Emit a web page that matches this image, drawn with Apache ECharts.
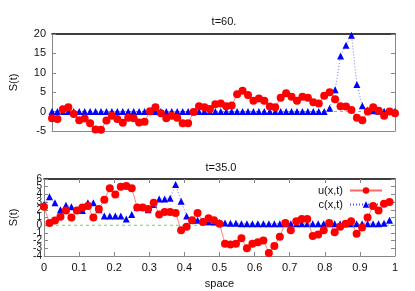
<!DOCTYPE html>
<html><head><meta charset="utf-8">
<script src="https://cdn.jsdelivr.net/npm/echarts@6/dist/echarts.min.js"></script>
<style>html,body{margin:0;padding:0;background:#fff}#c{width:415px;height:291px}</style>
</head><body><div id="c"></div>
<script>
const N = 64;
const space = Array.from({length: N}, (_, i) => i / N);
const u60 = [-1.7,-1.9,0.6,1.1,-0.6,-2.2,-1.8,-3.0,-4.6,-4.7,
  -2.3,-1.1,-1.9,-2.9,-1.6,-1.7,-2.8,-2.6,0.1,1.1,
  -0.4,-1.7,-1.1,-1.6,-3.0,-3.0,-0.1,1.4,1.1,0.7,
  1.9,2.1,1.4,1.6,4.5,5.4,4.3,2.8,3.4,2.8,
  1.3,1.1,3.6,4.7,3.8,2.8,3.8,3.6,2.4,2.1,
  4.1,5.0,3.2,1.4,1.3,0.4,-1.6,-2.2,0.0,1.1,
  0.2,-1.1,0.0,-0.4];
const c60 = [0,0,0,0,0,0,0,0,0,0, 0,0,0,0,0,0,0,0,0,0,
  0,0,0,0,0,0,0,0,0,0, 0,0,0,0,0,0,0,0,0,0,
  0,0,0,0,0,0,0,0,0,0, 0,0.85,5.6,14.3,17.1,19.7,7.0,1.5,0.4,0.2,
  0.1,0.1,0.1,0.1];
const u35 = [2.4,0.3,0.6,1.1,1.9,1.0,1.9,2.3,2.5,1.0,
  2.1,3.3,4.8,4.0,5.0,5.1,4.8,2.3,2.3,2.1,
  2.9,1.4,1.7,1.7,1.6,-0.65,-0.2,0.65,1.6,0.4,
  0.9,0.65,0.2,-2.4,-2.5,-2.4,-1.7,-3.0,-2.4,-2.2,
  -2.0,-3.6,-2.7,-1.5,0.3,-0.65,0.5,0.8,0.8,-1.4,
  -1.2,-0.65,0.3,-0.9,-0.2,0.2,0.5,-1.1,-0.3,1.0,
  2.5,1.9,2.8,3.0];
const c35 = [2.7,3.7,2.9,2.0,2.6,2.4,2.0,1.9,2.9,2.9,
  2.0,1.2,1.2,1.2,1.2,0.8,1.4,2.3,2.3,2.0,
  2.7,3.4,3.4,3.5,5.3,3.1,1.2,0.65,0.65,0.5,
  0.45,0.4,0.35,0.3,0.25,0.25,0.2,0.2,0.2,0.2,
  0.2,0.2,0.2,0.2,0.2,0.2,0.2,0.2,0.2,0.2,
  0.2,0.2,0.2,0.2,0.2,0.2,0.2,0.2,0.2,0.2,
  0.2,0.2,0.25,0.65];
const titles = ['t=60.', 't=35.0'];
const yTicks35 = [-4, -3, -2, -1, 0, 1, 2, 3, 4, 5, 6];

const pair = (ys) => ys.map((y, i) => [space[i], y]);
const FONT = 'Liberation Sans';
const txt = {fontFamily: FONT, fontSize: 11, color: '#111'};
const gray = '#888';

const chart = echarts.init(document.getElementById('c'), null, {renderer: 'canvas'});
const uSeries = (data, idx) => ({
  name: 'u(x,t)', type: 'line', xAxisIndex: idx, yAxisIndex: idx, data,
  symbol: 'circle', symbolSize: 8, showSymbol: true,
  lineStyle: {color: '#f66', width: 0.8},
  itemStyle: {color: '#ff0000'}, z: 4, animation: false
});
const cSeries = (data, idx) => ({
  name: 'c(x,t)', type: 'line', xAxisIndex: idx, yAxisIndex: idx, data,
  symbol: 'triangle', symbolSize: 7, showSymbol: true,
  lineStyle: {color: '#55f', width: 0.8, type: [1, 2]},
  itemStyle: {color: '#0000ff'}, z: 3, animation: false
});
const zeroSeries = (idx) => ({
  type: 'line', xAxisIndex: idx, yAxisIndex: idx, data: [[0, 0], [1, 0]],
  symbol: 'none', lineStyle: {color: '#4c4', width: 0.8, type: [3, 3]},
  z: 2, animation: false, silent: true
});
const xBase = {type: 'value', splitLine: {show: false}};

chart.setOption({
  animation: false,
  backgroundColor: '#fff',
  title: [
    {text: titles[0], left: 219, top: 11, textAlign: 'center', textStyle: Object.assign({}, txt, {fontWeight: 'normal'})},
    {text: titles[1], left: 216, top: 157, textAlign: 'center', textStyle: Object.assign({}, txt, {fontWeight: 'normal'})}
  ],
  legend: {
    data: ['u(x,t)', 'c(x,t)'], orient: 'vertical', align: 'right',
    right: 27, top: 180, itemWidth: 32, itemHeight: 8, itemGap: 3,
    textStyle: Object.assign({}, txt, {padding: [0, 2, 0, 0]})
  },
  grid: [
    {left: 52, right: 20, top: 34, height: 97},
    {left: 44, right: 20, top: 179, height: 77}
  ],
  xAxis: [
    Object.assign({}, xBase, {gridIndex: 0, min: 0, max: (N - 1) / N, position: 'bottom',
     axisLine: {show: true, onZero: false, lineStyle: {color: gray}}, axisTick: {show: false},
     axisLabel: {show: false}}),
    Object.assign({}, xBase, {gridIndex: 1, min: 0, max: 1, interval: 0.1, position: 'bottom',
     name: 'space', nameLocation: 'middle', nameGap: 22, nameTextStyle: txt,
     axisLine: {show: true, onZero: false, lineStyle: {color: gray}},
     axisTick: {show: true, inside: true, length: 4, lineStyle: {color: gray}},
     axisLabel: Object.assign({margin: 6, formatter: v => String(+v.toFixed(1))}, txt)}),
    Object.assign({}, xBase, {gridIndex: 0, min: 0, max: (N - 1) / N, position: 'top',
     axisLine: {show: true, onZero: false, lineStyle: {color: '#000', width: 1.5}}, axisTick: {show: false},
     axisLabel: {show: false}}),
    Object.assign({}, xBase, {gridIndex: 1, min: 0, max: 1, interval: 0.1, position: 'top',
     axisLine: {show: true, onZero: false, lineStyle: {color: '#000', width: 1.5}},
     axisTick: {show: true, inside: true, length: 4, lineStyle: {color: gray}},
     axisLabel: {show: false}})
  ],
  yAxis: [
    {type: 'value', gridIndex: 0, min: -5, max: 20, interval: 5, position: 'left',
     name: 'S(t)', nameLocation: 'middle', nameGap: 33, nameRotate: 90, nameTextStyle: txt,
     axisLine: {show: true, onZero: false, lineStyle: {color: gray}},
     axisTick: {show: true, inside: true, length: 4, lineStyle: {color: gray}},
     axisLabel: Object.assign({margin: 6}, txt), splitLine: {show: false}},
    {type: 'value', gridIndex: 1, min: -4, max: 6, interval: 1, position: 'left',
     name: 'S(t)', nameLocation: 'middle', nameGap: 25, nameRotate: 90, nameTextStyle: txt,
     axisLine: {show: true, onZero: false, lineStyle: {color: gray}},
     axisTick: {show: true, inside: true, length: 4, lineStyle: {color: gray}},
     axisLabel: {show: false}, splitLine: {show: false}},
    {type: 'value', gridIndex: 0, min: -5, max: 20, interval: 5, position: 'right',
     axisLine: {show: true, onZero: false, lineStyle: {color: gray}},
     axisTick: {show: true, inside: true, length: 4, lineStyle: {color: gray}},
     axisLabel: {show: false}, splitLine: {show: false}},
    {type: 'value', gridIndex: 1, min: -4, max: 6, interval: 1, position: 'right',
     axisLine: {show: true, onZero: false, lineStyle: {color: gray}},
     axisTick: {show: true, inside: true, length: 4, lineStyle: {color: gray}},
     axisLabel: {show: false}, splitLine: {show: false}}
  ],
  series: [
    zeroSeries(0), cSeries(pair(c60), 0), uSeries(pair(u60), 0),
    zeroSeries(1), cSeries(pair(c35), 1), uSeries(pair(u35), 1)
  ]
});

// Overlapping tick labels (as in the original) for the lower panel's y axis
const x0 = chart.convertToPixel({xAxisIndex: 1}, 0);
chart.setOption({
  graphic: yTicks35.map(v => ({
    type: 'text', silent: true,
    x: x0 - 2, y: chart.convertToPixel({yAxisIndex: 1}, v),
    style: {text: String(v), align: 'right', verticalAlign: 'middle',
      font: '10px "Liberation Sans"', fill: '#111'}
  }))
});
</script></body></html>
